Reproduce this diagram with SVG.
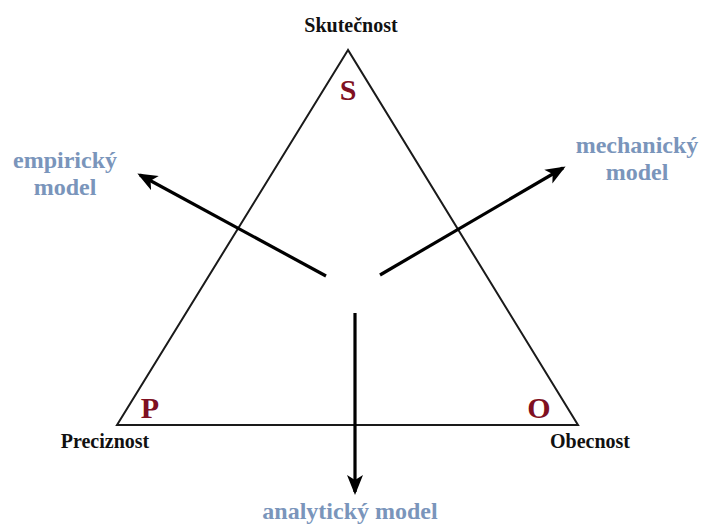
<svg xmlns="http://www.w3.org/2000/svg" width="702" height="526" viewBox="0 0 702 526">
<style>
.tri{fill:none;stroke:#1a1a1a;stroke-width:2}
.arr{stroke:#000;stroke-width:3.2;fill:none}
.lbl{font-family:"Liberation Serif",serif;font-weight:bold;font-size:20px;fill:#111;text-anchor:middle}
.let{font-family:"Liberation Serif",serif;font-weight:bold;font-size:30px;fill:#7f1022;text-anchor:middle}
.mod{font-family:"Liberation Serif",serif;font-weight:bold;font-size:24px;fill:#7a95bb;text-anchor:middle}
</style>
<defs>
<marker id="ahb" markerWidth="20" markerHeight="20" refX="17" refY="10" orient="auto" markerUnits="userSpaceOnUse" viewBox="0 0 20 20">
<path d="M0,2 L20,10 L0,18 L5,10 Z" fill="#000"/>
</marker>
</defs>
<g id="triangle">
<polygon class="tri" points="348,50 117,425 578,425"/>
</g>
<g id="node-S">
<text class="lbl" x="351" y="32">Skutečnost</text>
<text class="let" x="348" y="100">S</text>
</g>
<g id="node-P">
<text class="lbl" x="105" y="448">Preciznost</text>
<text class="let" x="150" y="418">P</text>
</g>
<g id="node-O">
<text class="lbl" x="590" y="448">Obecnost</text>
<text class="let" x="539" y="418">O</text>
</g>
<g id="node-empiricky">
<text class="mod" x="65" y="168">empirický</text>
<text class="mod" x="65" y="195">model</text>
</g>
<g id="node-mechanicky">
<text class="mod" x="637" y="153">mechanický</text>
<text class="mod" x="637" y="180">model</text>
</g>
<g id="node-analyticky">
<text class="mod" x="350" y="519">analytický model</text>
</g>
<g id="connectors">
<line class="arr" x1="326" y1="276" x2="140" y2="175" marker-end="url(#ahb)"/>
<line class="arr" x1="380" y1="275" x2="563" y2="168" marker-end="url(#ahb)"/>
<line class="arr" x1="355" y1="313" x2="355" y2="492" marker-end="url(#ahb)"/>
</g>
</svg>
